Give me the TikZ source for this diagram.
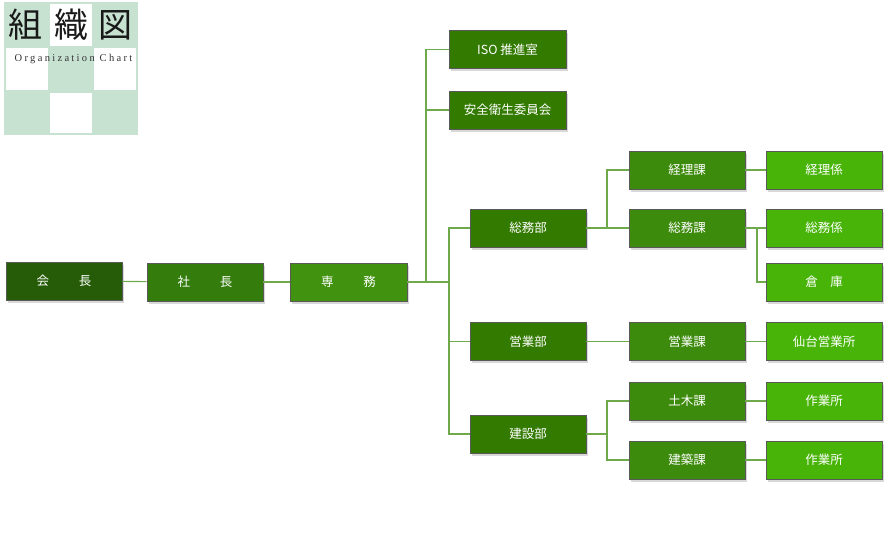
\documentclass[tikz,border=0pt]{standalone}
\usepackage{fontspec}
\newfontfamily\jpfont{Noto Sans CJK JP}
\newfontfamily\orgfont[LetterSpace=22]{Liberation Serif}
\usetikzlibrary{calc, shadows}

\definecolor{paleGreen}{RGB}{200,226,210}
\definecolor{kaiGreen}{RGB}{38,92,8}
\definecolor{shaGreen}{RGB}{52,124,12}
\definecolor{senGreen}{RGB}{64,146,15}
\definecolor{buGreen}{RGB}{51,122,0}
\definecolor{kaGreen}{RGB}{61,139,12}
\definecolor{kakariGreen}{RGB}{72,180,8}
\definecolor{linkGreen}{RGB}{110,170,76}

\tikzset{
  box/.style={draw=black!65, line width=0.8pt, minimum width=116pt, minimum height=38pt,
    inner sep=0pt, text=white, font=\jpfont\fontsize{12.5}{14}\selectfont,
    drop shadow={shadow xshift=2pt, shadow yshift=-2.5pt, fill=black!22, opacity=0.7}},
  link/.style={draw=linkGreen, line width=1.1pt},
  kanji/.style={font=\jpfont\fontsize{34}{34}\selectfont, text=black!90}
}

\begin{document}
\begin{tikzpicture}[x=1pt,y=-1pt]
      \useasboundingbox (0,0) rectangle (888,542);

      \fill[paleGreen] (4,2) rectangle (138,135);
      \fill[white] (50,4) rectangle (92,46);
      \fill[white] (6,48) rectangle (48,90);
      \fill[white] (94,48) rectangle (136,90);
      \fill[white] (50,93) rectangle (92,133);
      \node[kanji] (kumi) at (26,25) {組};
      \node[kanji] (shiki) at (71,25) {織};
      \node[kanji] (zu) at (115,25) {図};
      \node[font=\orgfont\fontsize{10.5}{10.5}\selectfont, text=black!80] (orgchart) at (73.5,59) {Organization Chart};

      \node[box, fill=kaiGreen] (kaicho) at (64,281) {会\hspace{2.4em}長};
      \node[box, fill=shaGreen] (shacho) at (205,282) {社\hspace{2.4em}長};
      \node[box, fill=senGreen, minimum width=117pt] (senmu) at (348.5,282) {専\hspace{2.4em}務};

      \node[box, fill=buGreen, minimum width=117pt] (iso) at (507.5,49.5) {ISO 推進室};
      \node[box, fill=buGreen, minimum width=117pt] (anzen) at (507.5,110) {安全衛生委員会};

      \node[box, fill=buGreen] (somubu) at (528,228) {総務部};
      \node[box, fill=buGreen] (eigyobu) at (528,341.5) {営業部};
      \node[box, fill=buGreen] (kensetsubu) at (528,434) {建設部};

      \node[box, fill=kaGreen] (keirika) at (687,170) {経理課};
      \node[box, fill=kaGreen] (somuka) at (687,228) {総務課};
      \node[box, fill=kaGreen] (eigyoka) at (687,341.5) {営業課};
      \node[box, fill=kaGreen] (dobokuka) at (687,401) {土木課};
      \node[box, fill=kaGreen] (kenchikuka) at (687,460) {建築課};

      \node[box, fill=kakariGreen] (keirigakari) at (824,170) {経理係};
      \node[box, fill=kakariGreen] (somugakari) at (824,228) {総務係};
      \node[box, fill=kakariGreen] (soko) at (824,282) {倉\hspace{1em}庫};
      \node[box, fill=kakariGreen] (sendai) at (824,341.5) {仙台営業所};
      \node[box, fill=kakariGreen] (sagyo1) at (824,401) {作業所};
      \node[box, fill=kakariGreen] (sagyo2) at (824,460) {作業所};

      \coordinate (jA) at (426,282);
      \coordinate (jB) at (449,282);
      \coordinate (jC) at (607,228);
      \coordinate (jD) at (757,228);
      \coordinate (jE) at (607,434);

      \draw[link] (kaicho) -- (shacho);
      \draw[link] (shacho) -- (senmu);
      \draw[link] (senmu) -- (jB);
      \draw[link] (iso.west) -| (jA);
      \draw[link] (anzen.west) -- (anzen.west -| jA);
      \draw[link] (somubu.west) -| (jB) |- (kensetsubu.west);
      \draw[link] (eigyobu.west) -- (eigyobu.west -| jB);

      \draw[link] (somubu) -- (somuka);
      \draw[link] (keirika.west) -| (jC);
      \draw[link] (keirika) -- (keirigakari);
      \draw[link] (somuka) -- (somugakari);
      \draw[link] (soko.west) -| (jD);

      \draw[link] (eigyobu) -- (eigyoka);
      \draw[link] (eigyoka) -- (sendai);

      \draw[link] (kensetsubu) -- (jE);
      \draw[link] (dobokuka.west) -| (jE) |- (kenchikuka.west);
      \draw[link] (dobokuka) -- (sagyo1);
      \draw[link] (kenchikuka) -- (sagyo2);
    \end{tikzpicture}
\end{document}
